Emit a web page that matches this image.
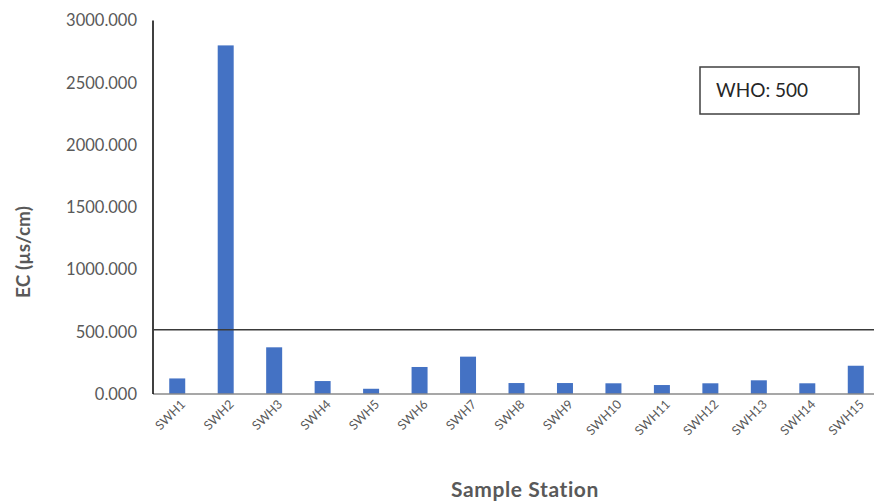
<!DOCTYPE html>
<html>
<head>
<meta charset="utf-8">
<script src="https://cdn.jsdelivr.net/npm/d3@7"></script>
<style>
  body { margin: 0; background: #fff; }
  text { font-family: Lato, 'Open Sans', sans-serif; }
</style>
</head>
<body>
<div id="chart"></div>
<script>
const stations = ['SWH1', 'SWH2', 'SWH3', 'SWH4', 'SWH5', 'SWH6', 'SWH7', 'SWH8',
  'SWH9', 'SWH10', 'SWH11', 'SWH12', 'SWH13', 'SWH14', 'SWH15']
const ecValues = [125, 2800, 375, 104, 42, 217, 300, 88, 88, 86, 72, 86, 110, 86, 227]
const yTicks = [0, 500, 1000, 1500, 2000, 2500, 3000]
const whoLimit = 500

const width = 874
const height = 504

// plot area runs past the right edge of the picture (cropped)
const margin = { top: 20.5, left: 153, right: -6, bottom: 110 }

const svg = d3
  .select('#chart')
  .append('svg')
  .attr('width', width)
  .attr('height', height)

const xScale = d3
  .scaleBand()
  .domain(stations)
  .range([margin.left, width - margin.right])
  .paddingInner(0.67)
  .paddingOuter(0.335)

const yScale = d3
  .scaleLinear()
  .domain([0, 3000])
  .range([height - margin.bottom, margin.top])

// y tick labels
svg
  .selectAll('.ytick')
  .data(yTicks)
  .enter()
  .append('text')
  .attr('class', 'ytick')
  .attr('x', 137)
  .attr('y', d => yScale(d))
  .attr('dy', '0.35em')
  .attr('text-anchor', 'end')
  .attr('font-size', 16.5)
  .attr('fill', '#595959')
  .text(d => d3.format('.3f')(d))

// bars
svg
  .selectAll('.bar')
  .data(stations)
  .enter()
  .append('rect')
  .attr('class', 'bar')
  .attr('x', d => xScale(d))
  .attr('width', xScale.bandwidth())
  .attr('y', (d, i) => yScale(ecValues[i]))
  .attr('height', (d, i) => yScale(0) - yScale(ecValues[i]))
  .attr('fill', '#4472c4')

// x axis line
svg
  .append('line')
  .attr('x1', margin.left)
  .attr('x2', width)
  .attr('y1', yScale(0))
  .attr('y2', yScale(0))
  .attr('stroke', '#8a8a8a')
  .attr('stroke-width', 1.5)

// y axis line
svg
  .append('line')
  .attr('x1', margin.left)
  .attr('x2', margin.left)
  .attr('y1', yScale(3000))
  .attr('y2', yScale(0))
  .attr('stroke', '#000')
  .attr('stroke-width', 1.5)

// WHO guideline
svg
  .append('line')
  .attr('x1', margin.left)
  .attr('x2', width)
  .attr('y1', yScale(whoLimit) - 2)
  .attr('y2', yScale(whoLimit) - 2)
  .attr('stroke', '#3a3a3a')
  .attr('stroke-width', 1.5)

// x tick labels, rotated
svg
  .selectAll('.xtick')
  .data(stations)
  .enter()
  .append('text')
  .attr('class', 'xtick')
  .attr('text-anchor', 'end')
  .attr('font-size', 12.5)
  .attr('fill', '#595959')
  .attr('transform', d => {
    const cx = xScale(d) + xScale.bandwidth() / 2 + 9
    return `translate(${cx},${yScale(0) + 11}) rotate(-45)`
  })
  .text(d => d)

// axis titles
svg
  .append('text')
  .attr('x', 525)
  .attr('y', 497)
  .attr('text-anchor', 'middle')
  .attr('font-size', 21)
  .attr('font-weight', 'bold')
  .attr('letter-spacing', 0.6)
  .attr('fill', '#595959')
  .text('Sample Station')

svg
  .append('text')
  .attr('transform', 'translate(30,252) rotate(-90)')
  .attr('text-anchor', 'middle')
  .attr('font-size', 19)
  .attr('font-weight', 'bold')
  .attr('fill', '#595959')
  .text('EC (µs/cm)')

// WHO label box
svg
  .append('rect')
  .attr('x', 700)
  .attr('y', 67)
  .attr('width', 159)
  .attr('height', 47)
  .attr('fill', '#fff')
  .attr('stroke', '#404040')
  .attr('stroke-width', 1.5)

svg
  .append('text')
  .attr('x', 716)
  .attr('y', 97)
  .attr('font-size', 19)
  .attr('fill', '#262626')
  .text('WHO: ' + whoLimit)
</script>
</body>
</html>
